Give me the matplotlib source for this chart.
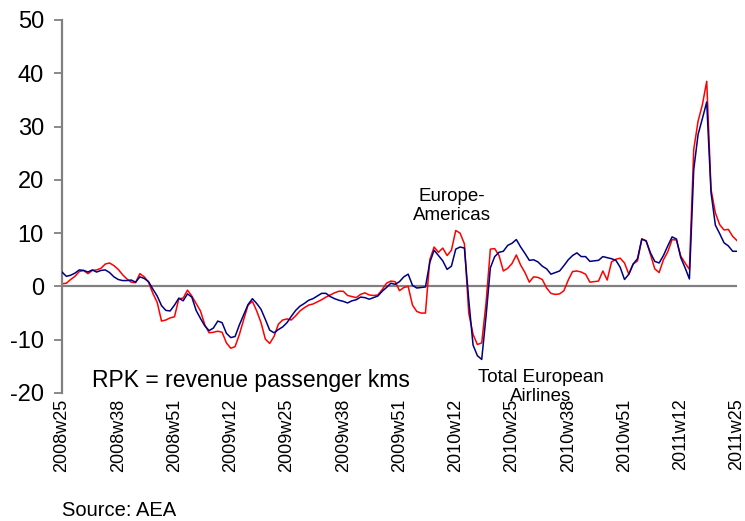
import matplotlib
matplotlib.use("Agg")
import matplotlib.pyplot as plt

plt.rcParams['font.family'] = ['Liberation Sans', 'DejaVu Sans']
plt.rcParams['axes.unicode_minus'] = False

tick_labels = ["2008w25", "2008w38", "2008w51", "2009w12", "2009w25", "2009w38",
               "2009w51", "2010w12", "2010w25", "2010w38", "2010w51", "2011w12", "2011w25"]

europe_americas = [
    0.5, 0.6, 1.3, 1.9, 2.8, 3.0, 2.4, 3.0, 3.1, 3.4,
    4.2, 4.4, 3.9, 3.2, 2.2, 1.4, 0.8, 0.7, 2.4, 1.8,
    0.8, -1.3, -3.0, -6.5, -6.3, -5.9, -5.7, -2.3, -2.2, -0.7,
    -1.8, -3.2, -4.6, -7.2, -8.7, -8.6, -8.4, -8.6, -10.6, -11.6,
    -11.3, -9.0, -6.2, -3.5, -2.8, -4.6, -6.8, -9.9, -10.7, -9.4,
    -7.1, -6.3, -6.1, -6.3, -5.5, -4.6, -4.0, -3.5, -3.3, -2.9,
    -2.5, -2.0, -1.6, -1.2, -0.9, -0.9, -1.7, -1.9, -2.1, -1.5,
    -1.2, -1.6, -1.7, -1.6, -0.6, 0.6, 1.0, 0.9, -0.8, -0.2,
    0.0, -3.5, -4.7, -5.0, -5.0, 5.0, 7.4, 6.4, 7.2, 5.8,
    6.8, 10.5, 10.0, 8.0, -5.0, -9.0, -10.9, -10.6, -3.1, 7.0,
    7.1, 5.8, 2.9, 3.4, 4.3, 5.9, 4.0, 2.6, 0.8, 1.8,
    1.7, 1.3, -0.3, -1.3, -1.5, -1.4, -0.8, 1.2, 2.8, 2.9,
    2.7, 2.3, 0.8, 0.9, 1.0, 2.9, 1.2, 4.6, 5.1, 5.3,
    4.4, 2.3, 4.2, 4.8, 8.9, 8.6, 6.0, 3.3, 2.6, 5.0,
    6.5, 8.8, 8.7, 5.7, 4.4, 3.2, 25.7, 31.0, 34.1, 38.5,
    18.2, 13.8, 11.6, 10.6, 10.7, 9.4, 8.6,
]

total_european = [
    2.7, 1.9, 2.1, 2.5, 3.1, 3.0, 2.7, 3.1, 2.7, 3.0,
    3.1, 2.6, 1.8, 1.3, 1.1, 1.1, 1.2, 0.8, 1.8, 1.5,
    0.9, -0.5, -1.8, -3.6, -4.5, -4.6, -3.5, -2.2, -2.7, -1.4,
    -2.0, -4.5, -6.0, -7.4, -8.3, -7.8, -6.5, -6.8, -8.8, -9.6,
    -9.4, -7.2, -5.3, -3.4, -2.3, -3.2, -4.3, -6.2, -8.2, -8.7,
    -8.1, -7.6, -6.8, -5.6, -4.5, -3.7, -3.2, -2.6, -2.3, -1.8,
    -1.3, -1.3, -1.9, -2.3, -2.6, -2.8, -3.1, -2.7, -2.5, -2.0,
    -2.1, -2.4, -2.1, -1.8, -0.9, -0.2, 0.6, 0.4, 0.9, 1.8,
    2.3, 0.2, -0.3, -0.2, -0.1, 4.5, 6.8, 5.8, 4.8, 3.2,
    3.8, 7.0, 7.4, 7.2, -2.5, -11.0, -13.0, -13.7, -5.6, 3.5,
    5.6, 6.4, 6.6, 7.7, 8.1, 8.8, 7.4, 6.2, 4.9, 5.0,
    4.6, 3.8, 3.3, 2.3, 2.6, 2.9, 3.9, 5.0, 5.8, 6.3,
    5.6, 5.6, 4.7, 4.8, 4.9, 5.6, 5.4, 5.2, 4.9, 3.6,
    1.3, 2.3, 4.2, 5.2, 8.9, 8.5, 6.3, 4.7, 4.4, 5.8,
    7.6, 9.3, 8.9, 5.4, 3.5, 1.4, 21.9, 28.5, 31.5, 34.6,
    17.6, 11.5, 9.9, 8.2, 7.6, 6.6, 6.6,
]

W, H = 745, 521
fig = plt.figure(figsize=(W / 100, H / 100), dpi=100)
ax = fig.add_axes([62 / W, 1 - 393 / H, (737 - 62) / W, (393 - 20) / H])

x = list(range(len(total_european)))
ax.axhline(0, color='#808080', lw=1.6, zorder=1)
ax.plot(x, europe_americas, color='#FF0000', lw=1.1, zorder=2)
ax.plot(x, total_european, color='#000080', lw=1.1, zorder=3)

ax.set_xlim(0, len(x) - 1)
ax.set_ylim(-20, 50)
ax.set_yticks(range(-20, 51, 10))
ax.tick_params(axis='y', direction='out', length=6, width=1.3, color='#808080',
               labelsize=17, pad=7)
ax.set_xticks(range(0, len(x), 13))
ax.set_xticklabels(tick_labels, rotation=90, fontsize=13)
ax.tick_params(axis='x', length=0, pad=4)

for s in ['top', 'right', 'bottom']:
    ax.spines[s].set_visible(False)
ax.spines['left'].set_color('#808080')
ax.spines['left'].set_linewidth(1.6)
ax.patch.set_alpha(0)

fig.text(92 / W, 1 - 381 / H, "RPK = revenue passenger kms", fontsize=16.5,
         ha='left', va='center')
fig.text(452 / W, 1 - 206 / H, "Europe-\nAmericas", fontsize=13.5,
         ha='center', va='center', multialignment='center')
fig.text(541 / W, 1 - 387 / H, "Total European\nAirlines", fontsize=13.5,
         ha='center', va='center', multialignment='center')
fig.text(62 / W, 1 - 510 / H, "Source: AEA", fontsize=14.5, ha='left', va='center')

fig.savefig("out.png", dpi=100)
